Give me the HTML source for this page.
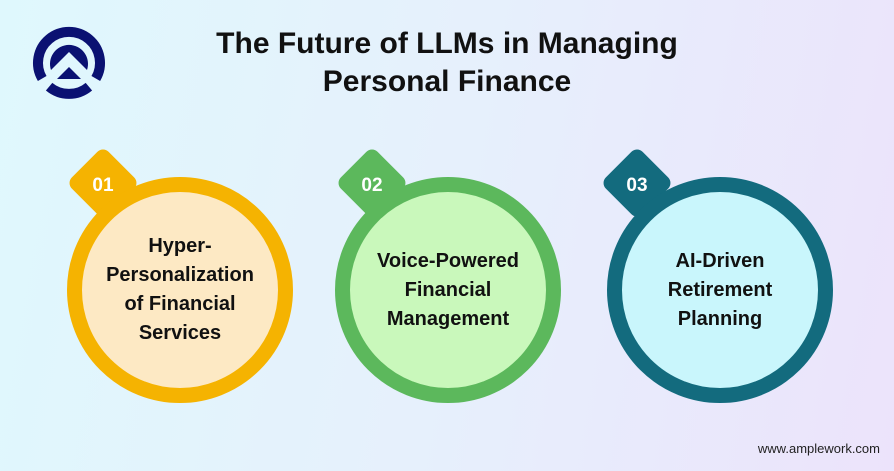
<!DOCTYPE html>
<html><head><style>
html,body{margin:0;padding:0}
body{width:894px;height:471px;overflow:hidden;position:relative;font-family:"Liberation Sans",sans-serif;
background:linear-gradient(100deg,#dff8fd 0%,#e6f0fc 50%,#ece3fb 100%)}
.t{position:absolute;left:0;width:894px;text-align:center;font-weight:bold;font-size:30px;color:#111;line-height:38px;top:25px}
.c{position:absolute;width:196px;height:196px;border-radius:50%;border-width:15px;border-style:solid;display:flex;align-items:center;justify-content:center;text-align:center;font-size:20px;font-weight:bold;line-height:29px;color:#111}
.b{position:absolute;width:52px;height:52px;border-radius:8px;transform:rotate(45deg)}
.n{position:absolute;width:60px;text-align:center;color:#fff;font-weight:bold;font-size:19px;font-family:"Liberation Sans Narrow","Liberation Sans",sans-serif}
.w{position:absolute;right:14px;top:441px;font-size:13px;color:#222}
</style></head><body>
<svg style="position:absolute;left:0;top:0" width="140" height="120">
<path d="M42.2 78.5 A31 31 0 1 1 95.8 78.5" fill="none" stroke="#0a1172" stroke-width="10"/>
<path d="M49.1 86.7 A31 31 0 0 0 88.9 86.7" fill="none" stroke="#0a1172" stroke-width="10"/>
<path d="M51 70 A19 19 0 1 1 87 70 L69 52 Z" fill="#0a1172"/>
<path d="M57 79 L69 67 L81 79 Z" fill="#0a1172"/>
</svg>
<div class="t">The Future of LLMs in Managing<br>Personal Finance</div>

<div class="b" style="left:77px;top:157px;background:#f5b301"></div>
<div class="c" style="left:67px;top:177px;border-color:#f5b301;background:#fde9c4">Hyper-<br>Personalization<br>of Financial<br>Services</div>
<div class="n" style="left:73px;top:175px">01</div>

<div class="b" style="left:346px;top:157px;background:#5cb85c"></div>
<div class="c" style="left:335px;top:177px;border-color:#5cb85c;background:#c9f8bb">Voice-Powered<br>Financial<br>Management</div>
<div class="n" style="left:342px;top:175px">02</div>

<div class="b" style="left:611px;top:157px;background:#136b7e"></div>
<div class="c" style="left:607px;top:177px;border-color:#136b7e;background:#c9f6fc">AI-Driven<br>Retirement<br>Planning</div>
<div class="n" style="left:607px;top:175px">03</div>

<div class="w">www.amplework.com</div>
</body></html>
